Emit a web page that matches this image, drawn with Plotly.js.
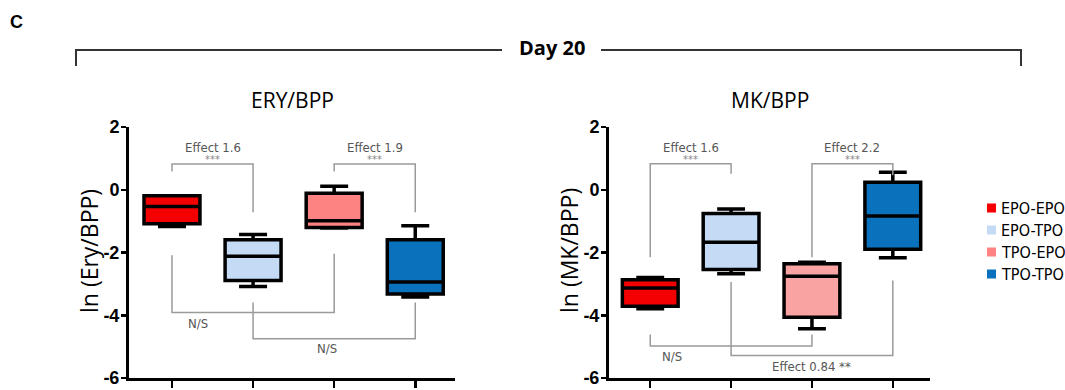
<!DOCTYPE html>
<html><head><meta charset="utf-8">
<script src="https://cdn.plot.ly/plotly-3.0.1.min.js"></script>
<style>html,body{margin:0;padding:0;background:#fff}#chart{width:1065px;height:390px}</style>
</head><body><div id="chart"></div>
<script>
// ---- data ----
const categories = ['EPO-EPO', 'EPO-TPO', 'TPO-EPO', 'TPO-TPO'];
const legendColors = ['#f40000', '#c5daf5', '#fd8282', '#0a72bd'];
// ERY/BPP (ln) five-number summaries
const eryMin = [-1.17, -3.08, -1.22, -3.42];
const eryQ1  = [-1.08, -2.89, -1.20, -3.32];
const eryMed = [-0.53, -2.12, -0.99, -2.94];
const eryQ3  = [-0.19, -1.59, -0.11, -1.59];
const eryMax = [-0.19, -1.43, 0.11, -1.15];
// MK/BPP (ln)
const mkMin = [-3.79, -2.68, -4.43, -2.17];
const mkQ1  = [-3.71, -2.54, -4.06, -1.90];
const mkMed = [-3.13, -1.67, -2.76, -0.84];
const mkQ3  = [-2.87, -0.76, -2.36, 0.24];
const mkMax = [-2.80, -0.61, -2.31, 0.56];
const eryColors = ['#f40000', '#c5daf5', '#fd8282', '#0a72bd'];
const mkColors  = ['#f40000', '#c5daf5', '#f9a3a3', '#0a72bd'];
// significance labels
const eryTests = [
  {a: 0, b: 1, yl: 0.58, yr: -0.72, bar: 0.82, text: 'Effect 1.6', sig: '***', tx: 0.5, ty: 1.34, sy: 0.97},
  {a: 2, b: 3, yl: 0.58, yr: -0.72, bar: 0.82, text: 'Effect 1.9', sig: '***', tx: 2.5, ty: 1.34, sy: 0.97},
  {a: 0, b: 2, yl: -2.09, yr: -2.04, bar: -3.91, text: 'N/S', sig: '', tx: 0.32, ty: -4.27},
  {a: 1, b: 3, yl: -3.59, yr: -3.59, bar: -4.75, text: 'N/S', sig: '', tx: 1.91, ty: -5.06}
];
const mkTests = [
  {a: 0, b: 1, yl: -2.15, yr: 0.51, bar: 0.83, text: 'Effect 1.6', sig: '***', tx: 0.5, ty: 1.36, sy: 0.97},
  {a: 2, b: 3, yl: -2.15, yr: 0.46, bar: 0.83, text: 'Effect 2.2', sig: '***', tx: 2.5, ty: 1.36, sy: 0.97},
  {a: 0, b: 2, yl: -4.61, yr: -4.61, bar: -4.98, text: 'N/S', sig: '', tx: 0.27, ty: -5.33},
  {a: 1, b: 3, yl: -2.94, yr: -2.89, bar: -5.28, text: 'Effect 0.84 **', sig: '', tx: 2.0, ty: -5.62}
];

// ---- build ----
const W = 1065, H = 390;
const px = v => v / W, py = v => 1 - v / H;
const traces = [];
function addBoxes(mn, q1, md, q3, mx, colors, xa, ya) {
  for (let i = 0; i < categories.length; i++) {
    traces.push({
      type: 'box', name: categories[i], x: [i],
      q1: [q1[i]], median: [md[i]], q3: [q3[i]], lowerfence: [mn[i]], upperfence: [mx[i]],
      width: 0.69, whiskerwidth: 0.5, fillcolor: colors[i],
      line: {color: '#000', width: 3.5}, boxpoints: false,
      xaxis: xa, yaxis: ya, showlegend: false, hoverinfo: 'skip'
    });
  }
}
addBoxes(eryMin, eryQ1, eryMed, eryQ3, eryMax, eryColors, 'x', 'y');
addBoxes(mkMin, mkQ1, mkMed, mkQ3, mkMax, mkColors, 'x2', 'y2');

const shapes = [], annotations = [];
const narrow = '"Liberation Sans Narrow", "DejaVu Sans Condensed", "Open Sans", sans-serif';
function ann(o) {
  annotations.push(Object.assign({showarrow: false, xanchor: 'center', yanchor: 'middle'}, o));
}
function addTests(tests, xr, yr) {
  tests.forEach(t => {
    shapes.push({type: 'path', xref: xr, yref: yr,
      path: `M ${t.a},${t.yl} L ${t.a},${t.bar} L ${t.b},${t.bar} L ${t.b},${t.yr}`,
      line: {color: '#9a9a9a', width: 1.5}});
    ann({xref: xr, yref: yr, x: t.tx, y: t.ty, text: t.text,
      font: {family: narrow, size: 13, color: '#555'}});
    if (t.sig) ann({xref: xr, yref: yr, x: t.tx, y: t.sy, text: t.sig,
      font: {family: narrow, size: 11, color: '#888'}});
  });
}
addTests(eryTests, 'x', 'y');
addTests(mkTests, 'x2', 'y2');

// subplot titles
ann({xref: 'paper', yref: 'paper', x: px(292), y: py(100), text: 'ERY/BPP',
  font: {family: 'Open Sans', size: 21, color: '#000'}});
ann({xref: 'paper', yref: 'paper', x: px(770), y: py(100), text: 'MK/BPP',
  font: {family: 'Open Sans', size: 21, color: '#000'}});
// y-axis titles
ann({xref: 'paper', yref: 'paper', x: px(89), y: py(251), text: 'ln (Ery/BPP)', textangle: -90,
  font: {family: 'Open Sans', size: 23, color: '#000'}});
ann({xref: 'paper', yref: 'paper', x: px(569), y: py(251), text: 'ln (MK/BPP)', textangle: -90,
  font: {family: 'Open Sans', size: 23, color: '#000'}});
// panel letter and Day 20
ann({xref: 'paper', yref: 'paper', x: px(16), y: py(22), text: '<b>C</b>',
  font: {family: 'Liberation Sans', size: 18, color: '#000'}});
ann({xref: 'paper', yref: 'paper', x: px(552), y: py(47), text: '<b>Day 20</b>',
  font: {family: 'Open Sans', size: 20, color: '#000'}});
shapes.push({type: 'path', xref: 'paper', yref: 'paper',
  path: `M ${px(76)},${py(66)} L ${px(76)},${py(50)} L ${px(502)},${py(50)}`, line: {color: '#333', width: 2}});
shapes.push({type: 'path', xref: 'paper', yref: 'paper',
  path: `M ${px(601)},${py(50)} L ${px(1021)},${py(50)} L ${px(1021)},${py(66)}`, line: {color: '#333', width: 2}});
// legend
categories.forEach((c, i) => {
  const cy = 208 + 22 * i;
  shapes.push({type: 'rect', xref: 'paper', yref: 'paper', x0: px(987), x1: px(996), y0: py(cy - 4.5), y1: py(cy + 4.5),
    fillcolor: legendColors[i], line: {width: 0}});
  ann({xref: 'paper', yref: 'paper', x: px(999), y: py(cy), xanchor: 'left', text: c,
    font: {family: narrow, size: 16, color: '#000'}});
});

const yDom = [py(378), py(127)];
const axY = () => ({
  domain: yDom, range: [-6, 2], tickvals: [-6, -4, -2, 0, 2], ticktext: ['-6', '-4', '-2', '0', '2'],
  showline: true, linewidth: 3, linecolor: '#000', ticks: 'outside', ticklen: 5, tickwidth: 2.5, tickcolor: '#000',
  showgrid: false, zeroline: false, ticklabelstandoff: -2,
  tickfont: {family: 'Liberation Sans', size: 18, color: '#000', weight: 'bold'}
});
const axX = (dom, rng, anchor) => ({
  domain: dom, range: rng, anchor: anchor, tickvals: [0, 1, 2, 3], showticklabels: false,
  showline: true, linewidth: 3, linecolor: '#000', ticks: 'outside', ticklen: 7, tickwidth: 2.5, tickcolor: '#000',
  showgrid: false, zeroline: false
});
const layout = {
  width: W, height: H, margin: {l: 0, r: 0, t: 0, b: 0}, paper_bgcolor: '#fff', plot_bgcolor: 'rgba(0,0,0,0)',
  showlegend: false,
  xaxis: axX([px(129), px(455)], [-0.53, 3.49], 'y'),
  yaxis: Object.assign(axY(), {anchor: 'x'}),
  xaxis2: axX([px(609), px(930)], [-0.51, 3.46], 'y2'),
  yaxis2: Object.assign(axY(), {anchor: 'x2'}),
  shapes: shapes, annotations: annotations
};
Plotly.newPlot('chart', traces, layout, {staticPlot: true});
</script></body></html>
